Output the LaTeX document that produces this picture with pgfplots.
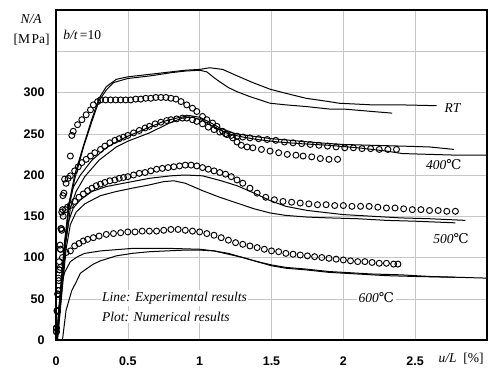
\documentclass[border=0pt]{standalone}
\usepackage{fontspec}
\setmainfont{Liberation Serif}
\newfontfamily\sansfont{Liberation Sans}
\newfontfamily\symfont{DejaVu Serif}
\usepackage{pgfplots}
\pgfplotsset{compat=1.18}

% load-deformation curves of square tubes, b/t = 10
\pgfplotstableread{
x y
0.005 0
0.03 45
0.06 110
0.09 165
0.13 200
0.19 235
0.25 268
0.30 293
0.35 307
0.42 316
0.50 319
0.65 322
0.80 325
0.90 327
1.00 328
1.07 330
1.16 328
1.25 321
1.37 312
1.49 304
1.60 299
1.74 293
1.90 289
1.97 287
2.20 285
2.40 285
2.65 284
}\rtexpA
\pgfplotstableread{
x y
0.005 0
0.03 50
0.06 115
0.09 160
0.13 195
0.19 233
0.25 265
0.30 290
0.35 303
0.40 312
0.50 317
0.65 320
0.80 324
0.90 326
1.00 327
1.05 325
1.10 318
1.14 313
1.20 306
1.26 301
1.35 295
1.49 287
1.60 285
1.74 283
1.90 280
2.00 280
2.20 277
2.34 275
}\rtexpB
\pgfplotstableread{
x y
0.005 0
0.03 60
0.06 120
0.09 165
0.12 185
0.17 200
0.25 218
0.35 233
0.42 240
0.50 247
0.65 258
0.75 265
0.84 269
0.93 272
1.00 270
1.07 264
1.14 257
1.25 250
1.37 247
1.50 244
1.70 241
1.83 239
2.00 237
2.20 236
2.41 235
2.60 234
2.77 231
}\ftexpA
\pgfplotstableread{
x y
0.01 0
0.04 60
0.07 120
0.10 160
0.14 180
0.20 198
0.30 218
0.42 234
0.50 241
0.65 251
0.79 263
0.88 269
0.95 270
1.02 266
1.10 258
1.20 250
1.30 246
1.40 243
1.55 240
1.70 238
1.90 236
2.10 233
2.30 229
2.41 226
2.60 225
2.80 224
3.00 224
}\ftexpB
\pgfplotstableread{
x y
0.005 0
0.03 55
0.06 110
0.09 145
0.12 160
0.17 170
0.25 180
0.35 186
0.50 191
0.65 196
0.80 199
0.90 200
1.02 199
1.15 193
1.26 187
1.38 178
1.49 169
1.60 162
1.75 157
1.90 154
2.00 152
2.20 150
2.40 148
2.60 147
2.85 145
}\fhexpA
\pgfplotstableread{
x y
0.01 0
0.04 55
0.07 110
0.10 140
0.14 155
0.20 165
0.31 175
0.42 180
0.53 184
0.65 188
0.75 192
0.82 193
0.90 190
1.02 181
1.14 173
1.26 166
1.38 159
1.49 154
1.60 151
1.75 149
1.90 148
2.10 147
2.30 145
2.50 144
2.78 142
}\fhexpB
\pgfplotstableread{
x y
0.005 0
0.02 40
0.04 68
0.06 82
0.10 95
0.15 101
0.20 105
0.31 108
0.53 111
0.80 111
1.00 110
1.10 108
1.20 104
1.30 100
1.40 95
1.50 91
1.60 88
1.74 86
1.90 83
2.00 82
2.20 80
2.40 79
2.60 77
2.80 76
3.00 75
}\sxexpA
\pgfplotstableread{
x y
0.045 0
0.07 36
0.11 60
0.14 70
0.17 81
0.21 86
0.26 92
0.31 96
0.42 102
0.53 105
0.65 107
0.77 108
0.90 109
1.00 109
1.10 108
1.20 105
1.28 101
1.40 95
1.50 90
1.60 87
1.74 85
1.90 82
2.10 80
2.30 78
2.50 77
2.78 76
}\sxexpB

% numerical results
\pgfplotstableread{
x y
0.003 15
0.008 35
0.013 55
0.018 75
0.023 95
0.028 115
0.034 135
0.040 155
0.048 175
0.060 195
0.100 223
0.110 248
0.120 253
0.150 261
0.180 267
0.210 273
0.240 279
0.260 285
0.290 289
0.310 291
0.345 291
0.380 291
0.415 291
0.450 291
0.485 291
0.520 291
0.555 292
0.590 292
0.625 293
0.660 293
0.695 294
0.730 294
0.765 294
0.800 293
0.835 292
0.870 289
0.910 285
0.950 281
0.980 277
1.020 271
1.050 267
1.090 263
1.120 259
1.160 253
1.190 249
1.230 245
1.260 240
1.290 236
1.330 234
1.370 233
1.430 231
1.490 229
1.550 227
1.610 225
1.670 224
1.720 223
1.780 222
1.840 220
1.900 219
1.960 219
}\rtnum
\pgfplotstableread{
x y
0.003 10
0.010 35
0.017 60
0.024 85
0.031 110
0.038 135
0.046 158
0.055 178
0.070 190
0.085 196
0.100 199
0.130 205
0.155 210
0.180 215
0.210 219
0.240 223
0.270 227
0.310 231
0.340 235
0.375 239
0.410 242
0.440 244
0.470 246
0.500 248
0.540 251
0.580 254
0.620 257
0.650 259
0.690 262
0.730 264
0.770 266
0.800 267
0.840 268
0.880 269
0.910 269
0.950 267
0.980 265
1.020 262
1.060 258
1.100 255
1.140 252
1.180 250
1.220 248
1.260 247
1.300 246
1.350 245
1.410 244
1.470 243
1.530 242
1.590 240
1.650 239
1.710 238
1.770 237
1.830 236
1.890 235
1.950 234
2.010 233
2.070 233
2.130 232
2.190 232
2.250 231
2.310 231
2.370 231
}\ftnum
\pgfplotstableread{
x y
0.003 10
0.010 35
0.017 60
0.024 85
0.031 110
0.040 133
0.050 150
0.065 158
0.080 161
0.100 163
0.130 168
0.160 173
0.190 177
0.220 181
0.250 184
0.280 187
0.310 189
0.340 191
0.375 193
0.410 194
0.440 196
0.470 197
0.500 198
0.540 200
0.580 202
0.620 203
0.660 205
0.700 207
0.740 208
0.780 209
0.820 210
0.860 211
0.900 212
0.940 212
0.980 211
1.020 209
1.060 207
1.100 205
1.140 203
1.180 201
1.220 198
1.260 194
1.300 190
1.350 184
1.400 178
1.460 173
1.520 170
1.580 168
1.640 167
1.700 166
1.760 165
1.820 164
1.880 164
1.940 163
2.000 163
2.060 162
2.120 162
2.180 162
2.240 161
2.300 160
2.360 160
2.420 159
2.480 158
2.540 158
2.600 157
2.660 157
2.720 156
2.780 156
}\fhnum
\pgfplotstableread{
x y
0.003 14
0.008 36
0.012 56
0.020 72
0.030 88
0.045 100
0.070 106
0.100 108
0.130 114
0.160 117
0.190 120
0.220 122
0.260 124
0.300 126
0.350 128
0.400 129
0.450 130
0.500 131
0.550 131
0.600 132
0.650 132
0.700 132
0.750 133
0.800 134
0.850 134
0.900 133
0.950 132
1.000 131
1.050 129
1.100 127
1.150 124
1.200 121
1.250 118
1.300 116
1.350 114
1.400 112
1.450 110
1.500 108
1.550 107
1.600 105
1.650 104
1.700 103
1.750 102
1.800 101
1.850 100
1.900 99
1.950 98
2.000 97
2.050 96
2.100 95
2.150 95
2.200 94
2.250 93
2.300 93
2.350 92
2.380 92
}\sxnum

\tikzset{
  lab/.style={font=\fontsize{13.5}{15}\selectfont\itshape, fill=white, inner sep=1.5pt},
}

\begin{document}
\begin{tikzpicture}
\useasboundingbox (0pt,0pt) rectangle (488pt,373pt);
\begin{axis}[
  at={(56pt,33pt)}, anchor=south west,
  scale only axis, width=431pt, height=330pt,
  xmin=0, xmax=3, ymin=0, ymax=400,
  xtick={0,0.5,1,1.5,2,2.5},
  xticklabels={0,0.5,1,1.5,2,2.5},
  ytick={0,50,100,150,200,250,300,350},
  yticklabels={0,50,100,150,200,250,300,{}},
  major tick length=0pt,
  grid=major,
  major grid style={gray!45, line width=0.5pt},
  axis line style={line width=1.4pt},
  tick label style={font=\sansfont\bfseries\fontsize{12.5}{14}\selectfont},
  /pgf/number format/assume math mode=true,
  xticklabel style={yshift=-13pt},
  yticklabel style={xshift=-8pt},
  clip=false,
  exp/.style={black, line width=1pt, no markers},
  num/.style={only marks, mark=o, mark size=3pt,
    mark options={black, fill=white, line width=0.95pt}},
]
\addplot[exp] table {\rtexpA};
\addplot[exp] table {\rtexpB};
\addplot[exp] table {\ftexpA};
\addplot[exp] table {\ftexpB};
\addplot[exp] table {\fhexpA};
\addplot[exp] table {\fhexpB};
\addplot[exp] table {\sxexpA};
\addplot[exp] table {\sxexpB};

\addplot[num] table {\rtnum};
\addplot[num] table {\ftnum};
\addplot[num] table {\fhnum};
\addplot[num] table {\sxnum};

\node[lab] at (axis cs:2.76,281) {RT};
\node[lab] at (axis cs:2.70,213) {400{\upshape\symfont ℃}};
\node[lab] at (axis cs:2.75,123) {500{\upshape\symfont ℃}};
\node[lab] at (axis cs:2.23,52) {600{\upshape\symfont ℃}};
\node[lab, anchor=west] at (axis cs:0.31,51) {Line: Experimental results};
\node[lab, anchor=west] at (axis cs:0.31,28) {Plot: Numerical results};
\node[lab, anchor=west] at (axis cs:0.04,370) {b/t{\upshape\,=10}};
\node[font=\fontsize{13.5}{15}\selectfont\itshape, inner sep=0pt] at (axis cs:-0.174,389) {N/A};
\node[font=\fontsize{13.5}{15}\selectfont, inner sep=0pt] at (axis cs:-0.17,364) {[M\kern1.5pt Pa]};
\node[font=\fontsize{13.5}{15}\selectfont, inner sep=0pt] at (axis cs:2.82,-23) {\textit{u/L} \ [\%]};
\end{axis}
\end{tikzpicture}
\end{document}
